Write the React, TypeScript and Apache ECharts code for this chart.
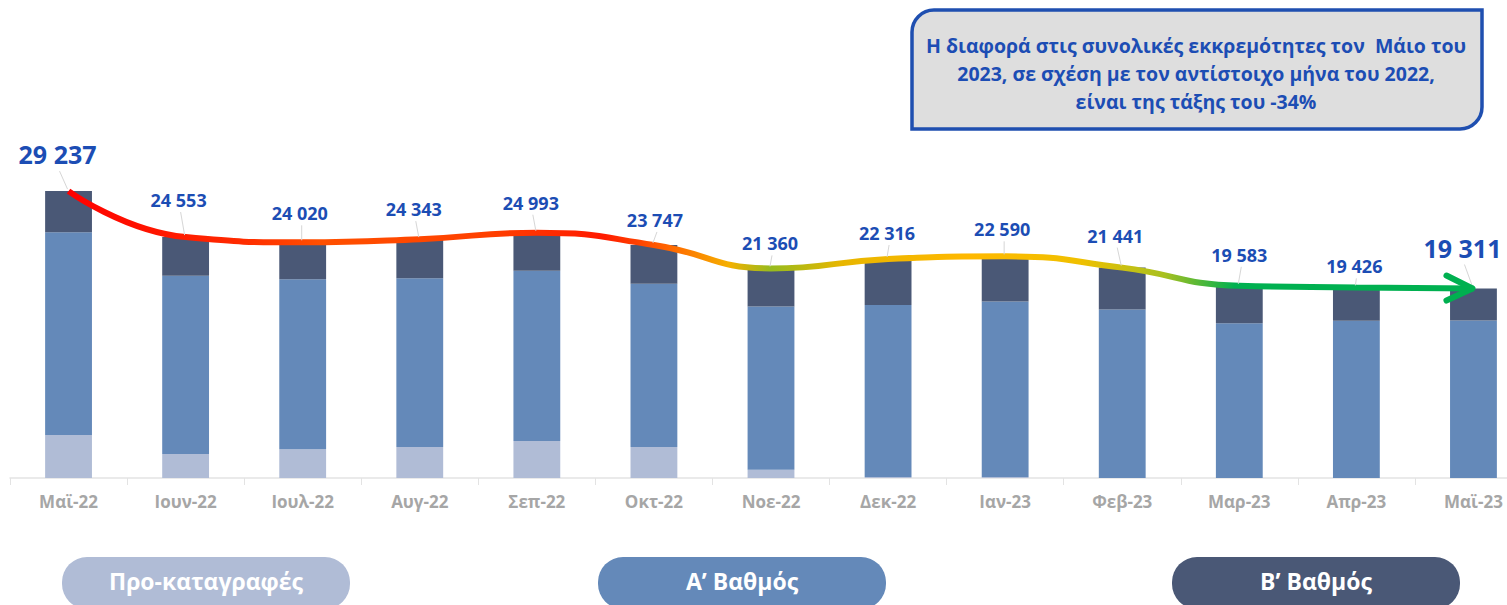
import React, { useEffect, useRef } from "react";
import * as echarts from "echarts";

const CATEGORIES = ["Μαϊ-22", "Ιουν-22", "Ιουλ-22", "Αυγ-22", "Σεπ-22", "Οκτ-22", "Νοε-22", "Δεκ-22", "Ιαν-23", "Φεβ-23", "Μαρ-23", "Απρ-23", "Μαϊ-23"];
const TOTALS = [29237, 24553, 24020, 24343, 24993, 23747, 21360, 22316, 22590, 21441, 19583, 19426, 19311];
const PRE_REGISTRATIONS = [4390, 2450, 2930, 3160, 3770, 3160, 850, 100, 100, 0, 0, 0, 0];
const FIRST_DEGREE = [20667, 18153, 17320, 17203, 17343, 16637, 16630, 17526, 17900, 17161, 15783, 16026, 16051];
const SECOND_DEGREE = [4180, 3950, 3770, 3980, 3880, 3950, 3880, 4690, 4590, 4280, 3800, 3400, 3260];
const LEGEND_NAMES = ["Προ-καταγραφές", "Α’ Βαθμός", "Β’ Βαθμός"];
const NOTE_LINES = [
  "Η διαφορά στις συνολικές εκκρεμότητες τον  Μάιο του",
  "2023, σε σχέση με τον αντίστοιχο μήνα του 2022,",
  "είναι της τάξης του -34%",
];

// label placement nudges (layout only)
const LABEL_OFFSETS: [number, number][] = [
  [-11, -37], [-7, -37], [-3, -29], [-6, -30], [-6, -30], [1, -25], [-1, -25],
  [-1, -26], [-3, -27], [-7, -32], [0, -31], [-2, -21], [-11, -41],
];

const C_PRE = "#b0bcd6";
const C_A = "#6489b9";
const C_B = "#4a5876";
const LABEL_BLUE = "#1c4db4";
const FONT = "'Open Sans', 'Noto Sans', sans-serif";

const fmt = (v: number) => `${Math.floor(v / 1000)} ${String(v % 1000).padStart(3, "0")}`;

export default function App() {
  const ref = useRef<HTMLDivElement>(null);
  useEffect(() => {
    if (!ref.current) return;
    const chart = echarts.init(ref.current, null, { renderer: "svg" });
    const last = TOTALS.length - 1;
    const lineGradient = new echarts.graphic.LinearGradient(0, 0, 1, 0, [
      { offset: 0, color: "#ff0000" },
      { offset: 0.12, color: "#ff2a00" },
      { offset: 0.18, color: "#ff5000" },
      { offset: 0.3, color: "#ff4000" },
      { offset: 0.38, color: "#ff1a00" },
      { offset: 0.43, color: "#ff6a00" },
      { offset: 0.47, color: "#f5b000" },
      { offset: 0.5, color: "#96bb1e" },
      { offset: 0.55, color: "#e8b600" },
      { offset: 0.64, color: "#ffb800" },
      { offset: 0.72, color: "#f0c000" },
      { offset: 0.78, color: "#a8c020" },
      { offset: 0.83, color: "#00b050" },
      { offset: 1, color: "#00b050" },
    ]);

    const pillX = [62, 598, 1172];
    const pillColors = [C_PRE, C_A, C_B];

    chart.setOption({
      animation: false,
      grid: { left: 10, width: 1522, top: 164, bottom: 127, containLabel: false, outerBoundsMode: "none" },
      xAxis: {
        type: "category",
        data: CATEGORIES,
        boundaryGap: true,
        axisLine: { lineStyle: { color: "#e3e3e3", width: 1.5 } },
        axisTick: { show: true, length: 7, lineStyle: { color: "#e3e3e3" } },
        axisLabel: { color: "#a6a6a6", fontWeight: "bold", fontSize: 17, fontFamily: FONT, margin: 15 },
      },
      yAxis: { type: "value", min: 0, max: 32000, show: false, splitLine: { show: false } },
      series: [
        { name: LEGEND_NAMES[0], type: "bar", stack: "t", data: PRE_REGISTRATIONS, barWidth: "40%", itemStyle: { color: C_PRE }, z: 2 },
        { name: LEGEND_NAMES[1], type: "bar", stack: "t", data: FIRST_DEGREE, barWidth: "40%", itemStyle: { color: C_A }, z: 2 },
        { name: LEGEND_NAMES[2], type: "bar", stack: "t", data: SECOND_DEGREE, barWidth: "40%", itemStyle: { color: C_B }, z: 2 },
        {
          name: "Σύνολο",
          type: "line",
          data: TOTALS,
          smooth: 0.5,
          symbol: "none",
          lineStyle: { width: 6, color: lineGradient },
          z: 4,
        },
        {
          type: "custom",
          data: TOTALS.map((v, i) => [i, v]),
          encode: { x: 0, y: 1 },
          z: 6,
          renderItem: (params: any, api: any) => {
            const i = params.dataIndex;
            const v = api.value(1);
            const p = api.coord([api.value(0), v]);
            const big = i === 0 || i === last;
            const [dx, dy] = LABEL_OFFSETS[i];
            const lx = p[0] + dx;
            const ly = p[1] + dy;
            const children: any[] = [
              {
                type: "line",
                shape: { x1: lx + 2, y1: ly + (big ? 17 : 12), x2: p[0] - 1, y2: p[1] - 2 },
                style: { stroke: "#d6d6d6", lineWidth: 1 },
              },
              {
                type: "text",
                x: lx,
                y: ly,
                style: {
                  text: fmt(v),
                  fill: LABEL_BLUE,
                  fontSize: big ? 25 : 18,
                  fontWeight: "bold",
                  fontFamily: FONT,
                  align: "center",
                  verticalAlign: "middle",
                },
              },
            ];
            if (i === last) {
              children.push({
                type: "polyline",
                shape: { points: [[p[0] - 27, p[1] - 13], [p[0] - 1, p[1]], [p[0] - 27, p[1] + 12]] },
                style: { stroke: "#00b050", lineWidth: 6, fill: null, lineCap: "round", lineJoin: "round" },
              });
            }
            return { type: "group", children };
          },
        },
      ],
      graphic: [
        {
          type: "rect",
          shape: { x: 912, y: 10, width: 570, height: 119, r: [22, 0, 22, 0] },
          style: { fill: "#dedede", stroke: "#1f4fb0", lineWidth: 3.5 },
          z: 10,
        },
        ...NOTE_LINES.map((t, k) => ({
          type: "text",
          x: 1196,
          y: 45 + k * 28,
          z: 11,
          style: {
            text: t,
            fill: LABEL_BLUE,
            fontSize: 19.5,
            fontWeight: "bold",
            fontFamily: FONT,
            align: "center",
            verticalAlign: "middle",
          },
        })),
        ...LEGEND_NAMES.map((name, k) => ({
          type: "group",
          z: 10,
          children: [
            {
              type: "rect",
              shape: { x: pillX[k], y: 557, width: 288, height: 52, r: 25 },
              style: { fill: pillColors[k] },
            },
            {
              type: "text",
              x: pillX[k] + 144,
              y: 581,
              style: {
                text: name,
                fill: "#ffffff",
                fontSize: 23,
                fontWeight: "bold",
                fontFamily: FONT,
                align: "center",
                verticalAlign: "middle",
              },
            },
          ],
        })),
      ],
    });
    return () => chart.dispose();
  }, []);
  return (
    <div style={{ position: "absolute", left: 0, top: 0, width: 1507, height: 605, overflow: "hidden" }}>
      <div ref={ref} style={{ width: 1545, height: 605 }} />
    </div>
  );
}
